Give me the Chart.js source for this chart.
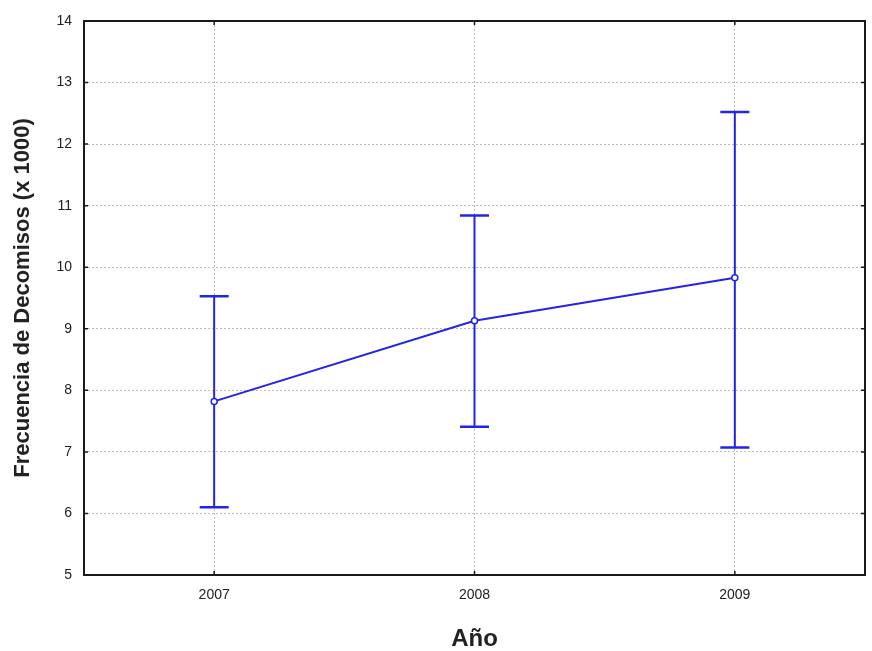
<!DOCTYPE html>
<html>
<head>
<meta charset="utf-8">
<script src="https://cdn.jsdelivr.net/npm/chart.js@4/dist/chart.umd.min.js"></script>
<style>
  html, body { margin: 0; padding: 0; background: #ffffff; }
  #wrap { width: 872px; height: 651px; }
</style>
</head>
<body>
<div id="wrap"><canvas id="c" width="872" height="651"></canvas></div>
<script>
const years = ['2007', '2008', '2009'];
const means = [7.82, 9.13, 9.83];
const upperBounds = [9.53, 10.84, 12.52];
const lowerBounds = [6.10, 7.41, 7.07];
const yMin = 5, yMax = 14, yStep = 1;

const blue = '#2424e6';

const errorBars = {
  id: 'errorBars',
  beforeDatasetsDraw(chart) {
    const ctx = chart.ctx;
    const x = chart.scales.x, y = chart.scales.y;
    ctx.save();
    ctx.strokeStyle = blue;
    years.forEach((yr, i) => {
      const px = x.getPixelForValue(i);
      const pt = y.getPixelForValue(upperBounds[i]);
      const pb = y.getPixelForValue(lowerBounds[i]);
      ctx.lineWidth = 2;
      ctx.beginPath();
      ctx.moveTo(px, pt); ctx.lineTo(px, pb);
      ctx.stroke();
      ctx.lineWidth = 2.5;
      ctx.beginPath();
      ctx.moveTo(px - 14.5, pt); ctx.lineTo(px + 14.5, pt);
      ctx.moveTo(px - 14.5, pb); ctx.lineTo(px + 14.5, pb);
      ctx.stroke();
    });
    ctx.restore();
  }
};

const frame = {
  id: 'frame',
  afterDraw(chart) {
    const {ctx, chartArea: a} = chart;
    const x = chart.scales.x, y = chart.scales.y;
    ctx.save();
    ctx.strokeStyle = '#1a1a1a';
    ctx.lineWidth = 1.5;
    ctx.beginPath();
    y.ticks.forEach(t => {
      const py = y.getPixelForValue(t.value);
      ctx.moveTo(a.left, py); ctx.lineTo(a.left + 4, py);
      ctx.moveTo(a.right, py); ctx.lineTo(a.right - 4, py);
    });
    x.ticks.forEach((t, i) => {
      const px = x.getPixelForValue(i);
      ctx.moveTo(px, a.bottom); ctx.lineTo(px, a.bottom - 4);
      ctx.moveTo(px, a.top); ctx.lineTo(px, a.top + 4);
    });
    ctx.stroke();
    ctx.lineWidth = 2;
    ctx.strokeRect(a.left, a.top, a.right - a.left, a.bottom - a.top);
    ctx.restore();
  }
};

new Chart(document.getElementById('c'), {
  type: 'line',
  data: {
    labels: years,
    datasets: [{
      data: means,
      borderColor: blue,
      borderWidth: 2,
      pointRadius: 3,
      pointBackgroundColor: '#ffffff',
      pointBorderColor: blue,
      pointBorderWidth: 1.5,
      tension: 0
    }]
  },
  options: {
    responsive: false,
    animation: false,
    events: [],
    layout: { padding: { left: 0, right: 7, top: 21, bottom: 0 } },
    plugins: { legend: { display: false }, tooltip: { enabled: false } },
    scales: {
      x: {
        type: 'category',
        offset: true,
        grid: { offset: false, color: '#bdbdbd', lineWidth: 1, drawTicks: false },
        border: { display: false, dash: [2, 2] },
        ticks: { color: '#222', padding: 12, font: { family: 'Liberation Sans, Arial, sans-serif', size: 14 }, maxRotation: 0 },
        title: {
          display: true, text: 'Año', color: '#222',
          font: { family: 'Liberation Sans, Arial, sans-serif', size: 24, weight: 'bold', lineHeight: 1 },
          padding: { top: 0, bottom: 0 }
        },
        afterFit(s) { s.height = 76; }
      },
      y: {
        min: yMin, max: yMax,
        grid: { color: '#bdbdbd', lineWidth: 1, drawTicks: false },
        border: { display: false, dash: [2, 2] },
        ticks: { stepSize: yStep, color: '#222', padding: 12, font: { family: 'Liberation Sans, Arial, sans-serif', size: 14 } },
        title: {
          display: true, text: 'Frecuencia de Decomisos (x 1000)', color: '#222',
          font: { family: 'Liberation Sans, Arial, sans-serif', size: 22, weight: 'bold', lineHeight: 1 },
          padding: { top: 12, bottom: 0 }
        },
        afterFit(s) { s.width = 84; }
      }
    }
  },
  plugins: [errorBars, frame]
});
</script>
</body>
</html>
